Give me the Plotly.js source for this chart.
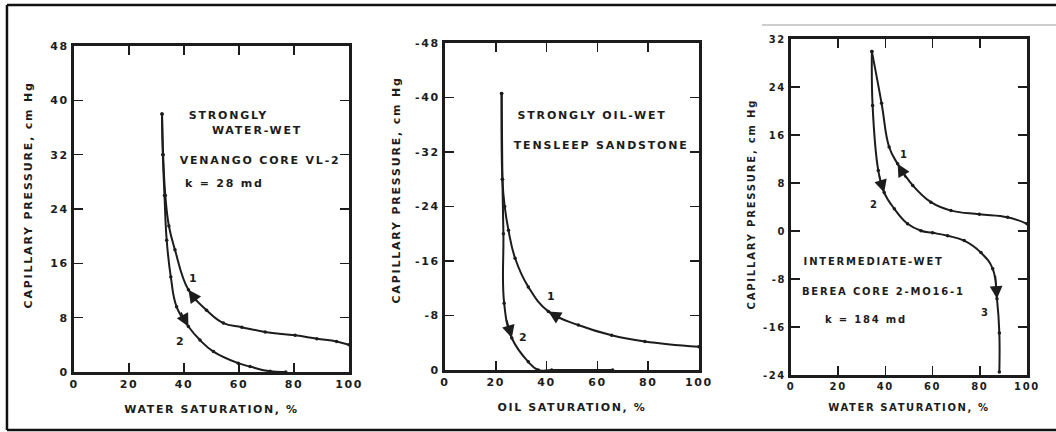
<!DOCTYPE html>
<html>
<head>
<meta charset="utf-8">
<script src="https://cdn.plot.ly/plotly-3.0.1.min.js"></script>
<style>
  html, body { margin: 0; padding: 0; background: #ffffff; }
  #chart { width: 1056px; height: 432px; }
  #chart .annotation-text { letter-spacing: 1.8px; }
  #chart .ytitle-note .annotation-text { letter-spacing: 1.7px; }
  #chart .g-xtitle text, #chart .g-x2title text, #chart .g-x3title text { letter-spacing: 1.6px; }
  #chart .xtick text, #chart .ytick text,
  #chart .x2tick text, #chart .y2tick text,
  #chart .x3tick text, #chart .y3tick text { letter-spacing: 1.6px; }
</style>
</head>
<body>
<div id="chart"></div>
<script>
// Panel A: strongly water-wet, Venango core VL-2
const waterWetSw1 = [32, 32.4, 33.2, 34.5, 36.7, 41.6, 48.2, 54.3, 61, 69.5, 80.4, 88.3, 95.5, 100];
const waterWetPc1 = [38, 32, 26, 21.5, 18.0, 12.1, 9.1, 7.2, 6.6, 5.9, 5.4, 4.9, 4.5, 4.0];
const waterWetSw2 = [32, 32.3, 32.9, 33.7, 35.2, 37.3, 41.6, 45.8, 50.7, 59.7, 64, 71.3, 77];
const waterWetPc2 = [38, 32, 26, 19.4, 14, 9.6, 6.7, 4.7, 3.0, 1.3, 0.8, 0.1, 0];

// Panel B: strongly oil-wet, Tensleep sandstone (oil saturation, negative pressure)
const oilWetSo1 = [22.3, 22.6, 23.5, 25, 27.6, 32.8, 40.7, 52.5, 65.6, 78.7, 100];
const oilWetPc1 = [-40.6, -28, -24, -20.5, -16.4, -12.2, -8.6, -6.6, -5.1, -4.2, -3.4];
const oilWetSo2 = [22.3, 22.6, 23.0, 23.3, 26.3, 32.8, 36.7, 42, 66];
const oilWetPc2 = [-40.6, -28, -20, -9.8, -4.7, -1.2, 0, 0, 0];

// Panel C: intermediate-wet, Berea core 2-MO16-1
const interSw1 = [34.3, 38.4, 41.6, 45.2, 51.6, 59.3, 67.8, 79.8, 91.8, 100];
const interPc1 = [29.9, 21.3, 14.0, 11.2, 7.6, 4.8, 3.4, 2.8, 2.3, 1.2];
const interSw2 = [34.3, 34.6, 37, 39.5, 43.8, 49.4, 55.1, 60, 66.4, 73.4, 80.5, 85.5, 87.3, 88.3, 88.3];
const interPc2 = [29.9, 20.9, 10.1, 6.4, 3.7, 1.2, 0.05, -0.3, -0.8, -1.6, -3.6, -6.3, -11.3, -17, -23.5];

// Tick values and labels
const satTicks = [0, 20, 40, 60, 80, 100];
const satLabels = ['0', '20', '40', '60', '80', '100'];
const pcTicksA = [0, 8, 16, 24, 32, 40, 48];
const pcLabelsA = ['0', '8', '16', '24', '32', '40', '48'];
const pcTicksB = [0, -8, -16, -24, -32, -40, -48];
const pcLabelsB = ['0', '-8', '-16', '-24', '-32', '-40', '-48'];
const pcTicksC = [-24, -16, -8, 0, 8, 16, 24, 32];
const pcLabelsC = ['-24', '-16', '-8', '0', '8', '16', '24', '32'];
const pressureTitle = 'CAPILLARY PRESSURE, cm Hg';

const INK = '#1c1c1c';
const FONT = 'DejaVu Sans, Arial, sans-serif';

function curve(x, y, xa, ya) {
  return {
    x: x, y: y, xaxis: xa, yaxis: ya,
    type: 'scatter', mode: 'lines+markers',
    line: { color: INK, width: 2, shape: 'spline', smoothing: 1.2 },
    marker: { color: INK, size: 3.5 },
    hoverinfo: 'skip'
  };
}

const traces = [
  curve(waterWetSw1, waterWetPc1, 'x', 'y'),
  curve(waterWetSw2, waterWetPc2, 'x', 'y'),
  curve(oilWetSo1, oilWetPc1, 'x2', 'y2'),
  curve(oilWetSo2, oilWetPc2, 'x2', 'y2'),
  curve(interSw1, interPc1, 'x3', 'y3'),
  curve(interSw2, interPc2, 'x3', 'y3')
];

function xAxis(domain, title, anchor, fs, gap) {
  return {
    domain: domain, anchor: anchor, range: [0, 100],
    tickmode: 'array', tickvals: satTicks, ticktext: satLabels,
    ticks: 'inside', ticklen: 9, tickwidth: 1.5, tickcolor: INK,
    showline: true, linewidth: 3, linecolor: INK, mirror: 'ticks',
    showgrid: false, zeroline: false,
    tickfont: { family: FONT, size: fs, color: INK, weight: 'bold' },
    title: { text: title, font: { family: FONT, size: fs, color: INK, weight: 'bold' }, standoff: gap },
    automargin: false
  };
}

function yAxis(domain, range, vals, labels, anchor, fs) {
  return {
    domain: domain, anchor: anchor, range: range,
    tickmode: 'array', tickvals: vals, ticktext: labels,
    ticks: 'inside', ticklen: 9, tickwidth: 1.5, tickcolor: INK,
    showline: true, linewidth: 3, linecolor: INK, mirror: 'ticks',
    showgrid: false, zeroline: false,
    tickfont: { family: FONT, size: fs, color: INK, weight: 'bold' },
    automargin: false
  };
}

// Rotated pressure label placed beside each panel's vertical axis
function yLabel(x, y, fs) {
  return {
    text: pressureTitle, x: x, y: y, xref: 'paper', yref: 'paper',
    xanchor: 'center', yanchor: 'middle', textangle: -90, showarrow: false,
    font: { family: FONT, size: fs, color: INK, weight: 'bold' },
    name: 'ytitle'
  };
}

function note(text, x, y, xa, ya, fs) {
  return {
    text: text, x: x, y: y, xref: xa, yref: ya,
    xanchor: 'center', yanchor: 'middle', showarrow: false,
    font: { family: FONT, size: fs, color: INK, weight: 'bold' }
  };
}

function arrow(x, y, ax, ay, xa, ya) {
  return {
    text: '', x: x, y: y, ax: ax, ay: ay, xref: xa, yref: ya, axref: xa, ayref: ya,
    showarrow: true, arrowhead: 2, arrowsize: 1.7, arrowwidth: 1.5, arrowcolor: INK, standoff: 0
  };
}

const annotations = [
  yLabel(0.0265, 0.5486, 11),
  yLabel(0.376, 0.5602, 11),
  yLabel(0.7121, 0.5278, 10),

  note('STRONGLY', 56.5, 37.7, 'x', 'y', 11),
  note('WATER-WET', 66.7, 35.5, 'x', 'y', 11),
  note('VENANGO CORE VL-2', 67.6, 31.2, 'x', 'y', 11),
  note('k = 28 md', 54.9, 27.7, 'x', 'y', 11),
  note('1', 43.8, 13.8, 'x', 'y', 11),
  note('2', 38.9, 4.5, 'x', 'y', 11),
  arrow(41.6, 12.1, 45, 10.2, 'x', 'y'),
  arrow(41.6, 6.7, 38.6, 9.0, 'x', 'y'),

  note('STRONGLY OIL-WET', 57.9, -37.3, 'x2', 'y2', 11),
  note('TENSLEEP SANDSTONE', 61.4, -32.9, 'x2', 'y2', 11),
  note('1', 42.3, -10.8, 'x2', 'y2', 11),
  note('2', 31.2, -4.8, 'x2', 'y2', 11),
  arrow(40.7, -8.6, 46, -7.4, 'x2', 'y2'),
  arrow(26.3, -4.7, 24.2, -7.5, 'x2', 'y2'),

  note('INTERMEDIATE-WET', 35, -5, 'x3', 'y3', 10),
  note('BEREA CORE 2-MO16-1', 39.2, -10, 'x3', 'y3', 10),
  note('k = 184 md', 32, -14.8, 'x3', 'y3', 10),
  note('1', 48, 12.8, 'x3', 'y3', 10),
  note('2', 35.3, 4.5, 'x3', 'y3', 10),
  note('3', 82.6, -13.6, 'x3', 'y3', 10),
  arrow(45.2, 11.2, 49, 8.6, 'x3', 'y3'),
  arrow(39.5, 6.4, 37.2, 9.5, 'x3', 'y3'),
  arrow(87.3, -11.3, 86.6, -7.2, 'x3', 'y3')
];

const shapes = [
  { type: 'line', xref: 'paper', yref: 'paper', x0: 0.0066, x1: 1, y0: 0.9884, y1: 0.9884, line: { color: '#111', width: 2.5 } },
  { type: 'line', xref: 'paper', yref: 'paper', x0: 0.0066, x1: 1, y0: 0.0046, y1: 0.0046, line: { color: '#111', width: 2.5 } },
  { type: 'line', xref: 'paper', yref: 'paper', x0: 0.0066, x1: 0.0066, y0: 0.0046, y1: 0.9884, line: { color: '#111', width: 2.5 } },
  { type: 'line', xref: 'paper', yref: 'paper', x0: 0.7216, x1: 1, y0: 0.9421, y1: 0.9421, line: { color: '#9a9a9a', width: 1 } }
];

const layout = {
  width: 1056, height: 432,
  margin: { l: 0, r: 0, t: 0, b: 0 },
  paper_bgcolor: '#ffffff', plot_bgcolor: '#ffffff',
  showlegend: false,
  xaxis: xAxis([0.0701, 0.3305], 'WATER SATURATION, %', 'y', 11, 16),
  yaxis: yAxis([0.1389, 0.8935], [0, 48], pcTicksA, pcLabelsA, 'x', 11),
  xaxis2: xAxis([0.4214, 0.6619], 'OIL SATURATION, %', 'y2', 11, 16),
  yaxis2: yAxis([0.1435, 0.9005], [0, -48], pcTicksB, pcLabelsB, 'x2', 11),
  xaxis3: xAxis([0.749, 0.9725], 'WATER SATURATION, %', 'y3', 10, 13),
  yaxis3: yAxis([0.1319, 0.9097], [-24, 32], pcTicksC, pcLabelsC, 'x3', 10),
  annotations: annotations,
  shapes: shapes
};

Plotly.newPlot('chart', traces, layout, { staticPlot: true, displayModeBar: false });
</script>
</body>
</html>
